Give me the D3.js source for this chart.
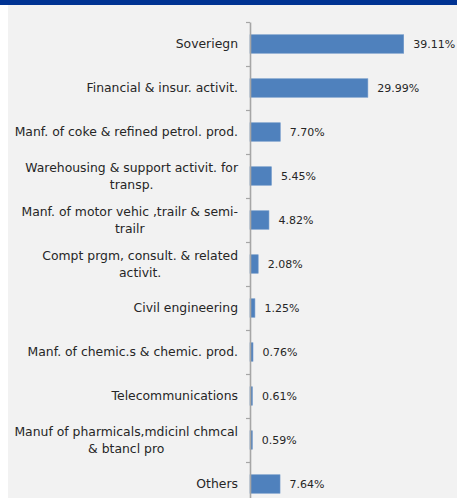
<!DOCTYPE html>
<html>
<head>
<meta charset="utf-8">
<script src="https://cdn.jsdelivr.net/npm/d3@7"></script>
<style>
  body { margin: 0; background: #fff; }
  svg { display: block; }
  text { font-family: "DejaVu Sans", sans-serif; fill: #262626; }
</style>
</head>
<body>
<script>
// categories, top to bottom; "\n" marks where the label wraps
var categories = [
  "Soveriegn",
  "Financial & insur. activit.",
  "Manf. of coke & refined petrol. prod.",
  "Warehousing & support activit. for\ntransp.",
  "Manf. of motor vehic ,trailr & semi-\ntrailr",
  "Compt prgm, consult. & related\nactivit.",
  "Civil engineering",
  "Manf. of chemic.s & chemic. prod.",
  "Telecommunications",
  "Manuf of pharmicals,mdicinl chmcal\n& btancl pro",
  "Others"
]
var values = [39.11, 29.99, 7.70, 5.45, 4.82, 2.08, 1.25, 0.76, 0.61, 0.59, 7.64]

var width = 457
var height = 498

var svg = d3.select('body').append('svg').attr('width', width).attr('height', height)

// panel background + header strip
svg.append('rect').attr('x', 8).attr('y', 0).attr('width', width - 8).attr('height', height).attr('fill', '#f2f2f2')
svg.append('rect').attr('x', 0).attr('y', 0).attr('width', width).attr('height', 5).attr('fill', '#003393')

var x = d3.scaleLinear().domain([0, 45]).range([250, 250 + 45 * 3.93])
var y = d3.scaleBand().domain(categories).range([22, 506]).paddingInner(0.58).paddingOuter(0.29)

// bars
svg.selectAll('rect.bar').data(values).enter()
  .append('rect').attr('class', 'bar')
  .attr('x', x(0))
  .attr('y', (d, i) => y(categories[i]))
  .attr('width', d => x(d) - x(0))
  .attr('height', y.bandwidth())
  .attr('fill', '#4f81bd')
  .attr('stroke', '#6f97c9').attr('stroke-width', 0.6)

// value labels
svg.selectAll('text.val').data(values).enter()
  .append('text').attr('class', 'val')
  .attr('x', d => x(d) + 9.5)
  .attr('y', (d, i) => y(categories[i]) + y.bandwidth() / 2)
  .attr('dy', '0.36em')
  .style('font-size', '11px')
  .text(d => d.toFixed(2) + '%')

// axis with ticks between categories
var edges = d3.scaleLinear().domain([0, categories.length]).range([22, 506])
var axis = d3.axisLeft(edges).tickValues(d3.range(categories.length + 1)).tickSize(4).tickSizeOuter(0).tickFormat('')
var ax = svg.append('g').attr('transform', 'translate(250,0)').call(axis)
ax.select('.domain').attr('stroke', '#a6a6a6').attr('stroke-width', 1.6)
ax.selectAll('.tick line').attr('stroke', '#a6a6a6').attr('stroke-width', 1.2)

// category labels, lines centred on each other, block right-aligned
var labels = svg.selectAll('g.lab').data(categories).enter()
  .append('g').attr('class', 'lab')
labels.each(function (c) {
  var g = d3.select(this)
  var lines = c.split('\n')
  var cy = y(c) + y.bandwidth() / 2
  var lh = 17.5
  var ts = lines.map((l, i) => g.append('text')
    .style('font-size', '12.4px')
    .attr('text-anchor', 'middle')
    .attr('y', cy + (i - (lines.length - 1) / 2) * lh)
    .attr('dy', '0.36em')
    .text(l))
  var w = d3.max(ts, t => t.node().getComputedTextLength())
  ts.forEach(t => t.attr('x', 238 - w / 2))
})
</script>
</body>
</html>
